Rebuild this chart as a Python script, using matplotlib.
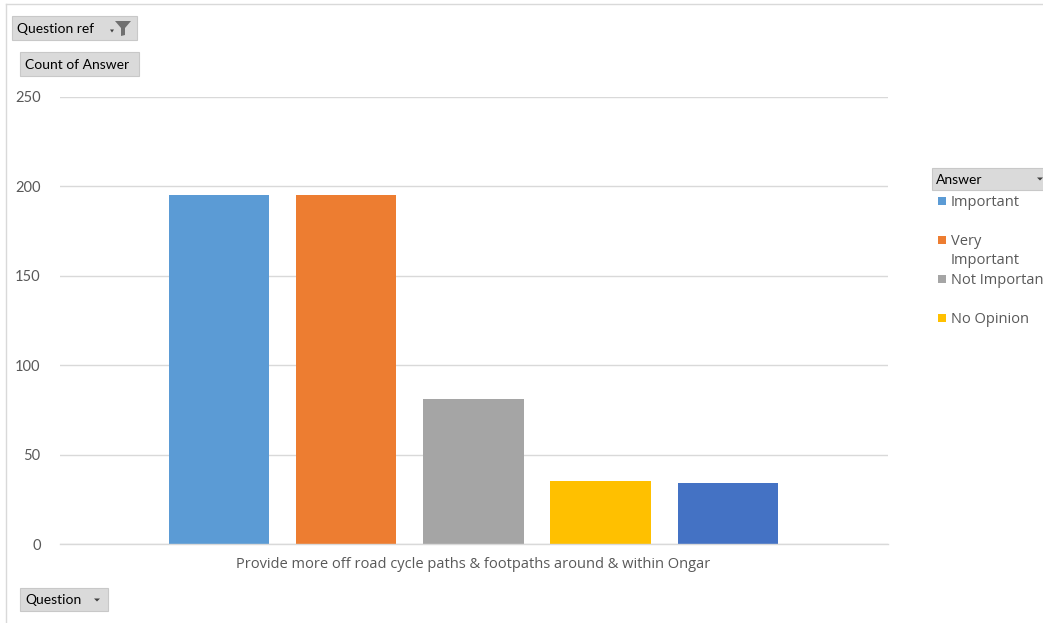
import numpy as np
import matplotlib.pyplot as plt
from matplotlib.patches import Rectangle, Polygon
from matplotlib.lines import Line2D

# data
answers = ["Important", "Very Important", "Not Important", "No Opinion", "(blank)"]
counts = [195, 195, 81, 35, 34]
colors = ["#5B9BD5", "#ED7D31", "#A5A5A5", "#FFC000", "#4472C4"]
question = "Provide more off road cycle paths & footpaths around & within Ongar"
yticks = [0, 50, 100, 150, 200, 250]
legend_labels = ["Important", "Very\nImportant", "Not Important", "No Opinion"]

W, H = 1043, 623
fig = plt.figure(figsize=(W / 100, H / 100), dpi=100)

def fx(px):
    return px / W

def fy(py):
    return 1 - py / H

axfont = "Lato"
txtcol = "#595959"

ax = fig.add_axes([fx(60), fy(544), fx(888) - fx(60), fy(97) - fy(544)])
x = np.arange(len(counts)) - (len(counts) - 1) / 2
ax.bar(x, counts, width=0.79, color=colors, zorder=3)
ax.set_xlim(-3.25, 3.26)
ax.set_ylim(0, 250)
ax.set_yticks(yticks)
ax.set_yticklabels([str(t) for t in yticks], fontfamily=axfont, fontsize=10.5, color=txtcol)
ax.tick_params(axis="y", length=0, pad=14)
ax.set_xticks([0])
ax.set_xticklabels([question], fontfamily="Open Sans", fontsize=10.5, color=txtcol)
ax.tick_params(axis="x", length=0, pad=9)
ax.grid(axis="y", color="#d9d9d9", linewidth=1, zorder=0)
for s in ["top", "right", "left"]:
    ax.spines[s].set_visible(False)
ax.spines["bottom"].set_color("#d9d9d9")
ax.spines["bottom"].set_linewidth(1)
ax.spines["bottom"].set_zorder(4)

# outer chart border
fig.add_artist(Line2D([fx(6), fx(6)], [fy(4), fy(623)], color="#d9d9d9", lw=1))
fig.add_artist(Line2D([fx(6), fx(1043)], [fy(4), fy(4)], color="#d9d9d9", lw=1))

# pivot field buttons
def button(x0, y0, x1, y1, label, tx):
    fig.add_artist(Rectangle((fx(x0), fy(y1)), fx(x1) - fx(x0), fy(y0) - fy(y1),
                             facecolor="#dadada", edgecolor="#c8c8c8", lw=0.8))
    fig.text(fx(tx), fy((y0 + y1) / 2 + 1), label, fontfamily=axfont, fontsize=10,
             color="#000000", va="center", ha="left")

def arrow(cx, cy, s=3):
    fig.add_artist(Polygon([(fx(cx - s), fy(cy - 1.5)), (fx(cx + s), fy(cy - 1.5)), (fx(cx), fy(cy + 1.5))],
                           closed=True, facecolor="#404040", edgecolor="none"))

button(12, 16, 137, 40, "Question ref", 17)
arrow(112, 31, 2)
fig.add_artist(Polygon([(fx(115), fy(21)), (fx(131), fy(21)), (fx(125), fy(28)),
                        (fx(125), fy(35)), (fx(121), fy(36)), (fx(121), fy(28))],
                       closed=True, facecolor="#707070", edgecolor="none"))
button(20, 52, 139, 76, "Count of Answer", 25)
button(20, 588, 108, 611, "Question", 25)
arrow(97, 600)

# legend (right edge clipped, as in the original)
button(932, 168, 1050, 190, "Answer", 936)
arrow(1040, 179)
leg_y = [201, 240, 279, 318]
for lab, col, yy in zip(legend_labels, colors, leg_y):
    fig.add_artist(Rectangle((fx(938), fy(yy + 4)), fx(8), fy(0) - fy(8), facecolor=col, edgecolor="none"))
    fig.text(fx(951), fy(yy - 6), lab, fontfamily="Open Sans", fontsize=10.5, color=txtcol,
             va="top", ha="left", linespacing=1.4)

fig.savefig("out.png", dpi=100)
